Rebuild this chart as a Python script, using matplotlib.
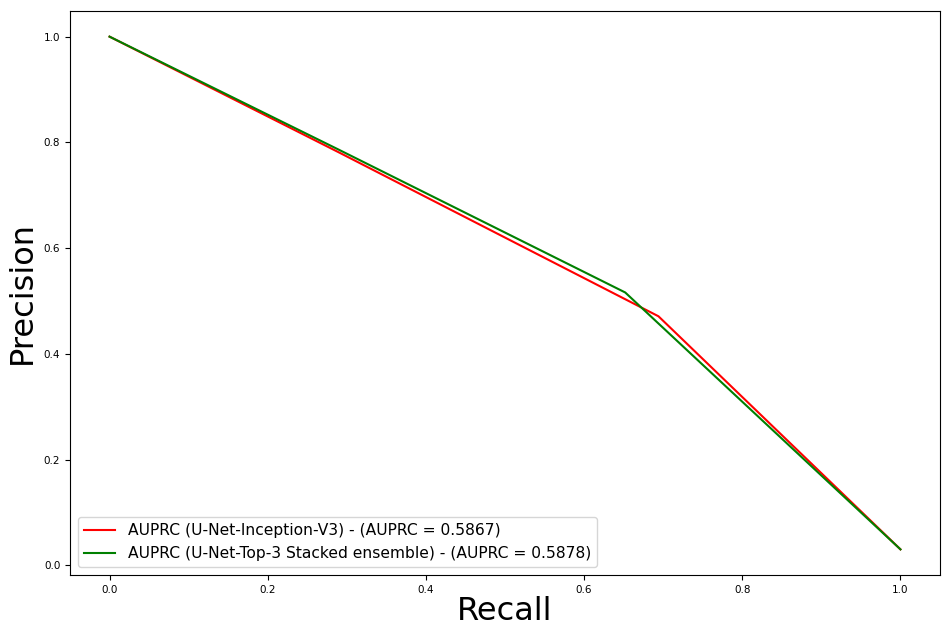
import matplotlib
matplotlib.use("Agg")
import matplotlib.pyplot as plt

recall_inc = [0.0, 0.29, 0.694, 1.0]
precision_inc = [1.0, 0.781, 0.471, 0.030]
recall_ens = [0.0, 0.29, 0.652, 1.0]
precision_ens = [1.0, 0.786, 0.516, 0.030]
label_inc = "AUPRC (U-Net-Inception-V3) - (AUPRC = 0.5867)"
label_ens = "AUPRC (U-Net-Top-3 Stacked ensemble) - (AUPRC = 0.5878)"

fig = plt.figure(figsize=(9.43, 6.28), dpi=100)
ax = fig.add_axes([70/943, 1-575/628, 870/943, 564/628])
ax.plot(recall_inc, precision_inc, color="red", lw=1.5, label=label_inc)
ax.plot(recall_ens, precision_ens, color="green", lw=1.5, label=label_ens)
ax.set_xticks([0.0, 0.2, 0.4, 0.6, 0.8, 1.0])
ax.set_yticks([0.0, 0.2, 0.4, 0.6, 0.8, 1.0])
ax.tick_params(labelsize=7.5)
ax.set_xlabel("Recall", fontsize=23, labelpad=1)
ax.set_ylabel("Precision", fontsize=23)
ax.legend(loc="lower left", fontsize=11.2)
fig.savefig("out.png", dpi=100)
